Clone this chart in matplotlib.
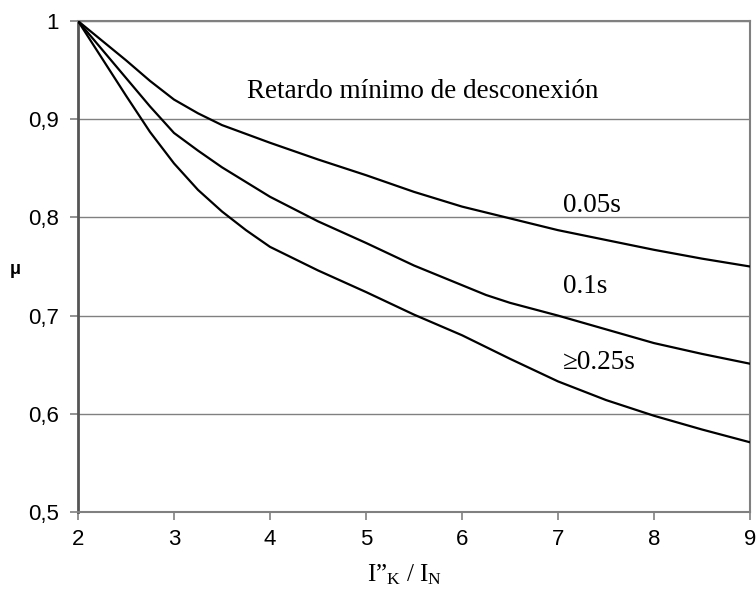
import matplotlib
matplotlib.use('Agg') # no display here
import matplotlib.pyplot as plt
from matplotlib.ticker import FixedLocator, FuncFormatter

# values, mu against I"k / In
x_fast = [2.0, 2.25, 2.5, 2.75, 3.0, 3.25, 3.5, 3.75, 4.0, 4.5, 5.0, 5.5, 6.0, 6.5, 7.0, 7.5, 8.0, 8.5, 9.0]
mu_005 = [1.0, 0.980, 0.960, 0.939, 0.920, 0.906, 0.894, 0.885, 0.876, 0.859, 0.843, 0.826, 0.811, 0.799, 0.787, 0.777, 0.767, 0.758, 0.750]

x_mid = [2.0, 2.25, 2.5, 2.75, 3.0, 3.25, 3.5, 3.75, 4.0, 4.5, 5.0, 5.5, 6.0, 6.25, 6.5, 7.0, 7.5, 8.0, 8.5, 9.0]
mu_01 = [1.0, 0.971, 0.942, 0.913, 0.886, 0.868, 0.851, 0.836, 0.821, 0.796, 0.774, 0.751, 0.731, 0.721, 0.713, 0.700, 0.686, 0.672, 0.661, 0.651]

x_slow = [2.0, 2.25, 2.5, 2.75, 3.0, 3.25, 3.5, 3.75, 4.0, 4.5, 5.0, 5.5, 6.0, 6.5, 7.0, 7.5, 8.0, 8.5, 9.0]
mu_025 = [1.0, 0.962, 0.924, 0.887, 0.855, 0.828, 0.806, 0.787, 0.770, 0.746, 0.724, 0.701, 0.680, 0.656, 0.633, 0.614, 0.598, 0.584, 0.571]

x_ticks = [2, 3, 4, 5, 6, 7, 8, 9]
y_ticks = [0.5, 0.6, 0.7, 0.8, 0.9, 1.0]

curve_labels = ["0.05s", "0.1s", "\u22650.25s"]
label_y = [0.812, 0.730, 0.652]
title_text = "Retardo m\u00ednimo de desconexi\u00f3n"

plt.rcParams['mathtext.fontset'] = 'custom'
plt.rcParams['mathtext.rm'] = 'Liberation Serif'
plt.rcParams['mathtext.it'] = 'Liberation Serif'

fig = plt.figure(figsize=(7.56, 6.0), dpi=100)
ax = fig.add_axes([78/756, 1-512/600, 672/756, 491/600])

grey = '#808080'
for y in y_ticks:
    ax.axhline(y, color=grey, lw=1.0, zorder=1)

ax.plot(x_fast, mu_005, color='black', lw=1.6, zorder=3)
ax.plot(x_mid, mu_01, color='black', lw=1.6, zorder=3)
ax.plot(x_slow, mu_025, color='black', lw=1.6, zorder=3)

ax.set_xlim(2, 9)
ax.set_ylim(0.5, 1.0)
ax.xaxis.set_major_locator(FixedLocator(x_ticks))
ax.yaxis.set_major_locator(FixedLocator(y_ticks))
ax.yaxis.set_major_formatter(FuncFormatter(lambda v, p: ('%g' % round(v, 1)).replace('.', ',')))

for s in ax.spines.values():
    s.set_color(grey)
    s.set_linewidth(1.5)
ax.spines['left'].set_color('#555555')
ax.spines['left'].set_linewidth(2.0)

ax.tick_params(axis='both', direction='out', length=6, width=1.2, color=grey,
               labelsize=16, labelfontfamily='Liberation Sans')
ax.tick_params(axis='y', pad=8)
ax.tick_params(axis='x', pad=6)

ax.text(3.76, 0.928, title_text, family='Liberation Serif', fontsize=19.5, va='center', ha='left')
for lab, ly in zip(curve_labels, label_y):
    ax.text(7.05, ly, lab, family='Liberation Serif', fontsize=19.5, va='center', ha='left')

fig.text(10/756, 1-270/600, "\u03bc", family='Liberation Sans', fontsize=13, fontweight='bold',
         ha='left', va='center')
fig.text(405/756, 1-575/600, "I\u201d$_\\mathrm{K}$ / I$_\\mathrm{N}$", family='Liberation Serif',
         fontsize=18, ha='center', va='center')

plt.savefig("out.png", dpi=100)
plt.close()
